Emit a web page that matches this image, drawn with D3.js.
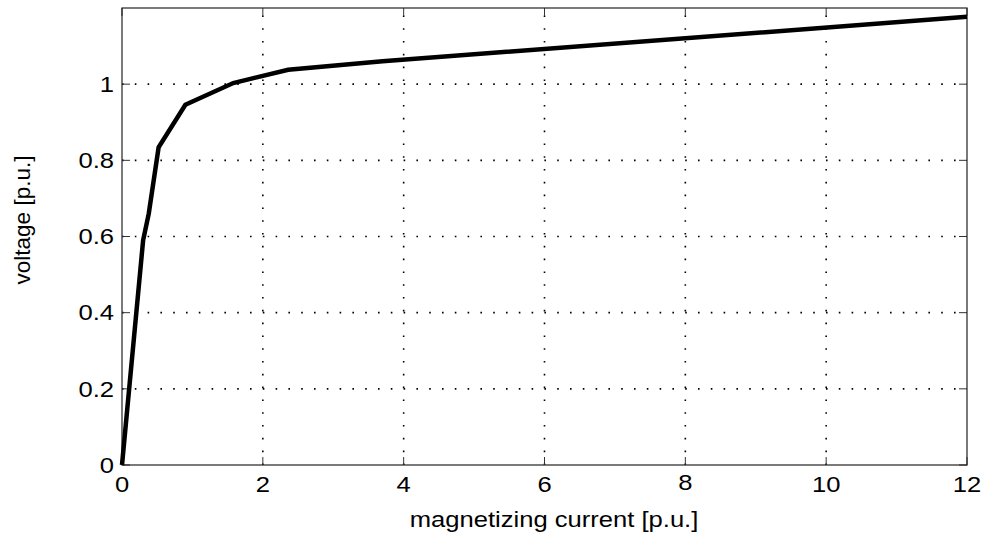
<!DOCTYPE html>
<html>
<head>
<meta charset="utf-8">
<script src="https://cdn.jsdelivr.net/npm/d3@7"></script>
<style>
html,body{margin:0;padding:0;background:#fff;}
svg{display:block;font-family:"Liberation Sans",Arial,Helvetica,sans-serif;}
</style>
</head>
<body>
<svg id="chart" width="989" height="538"></svg>
<script>
const current = [0, 0.3, 0.38, 0.52, 0.9, 1.58, 2.36, 3.7, 12];
const voltage = [0, 0.59, 0.66, 0.834, 0.946, 1.003, 1.038, 1.06, 1.177];
const xTicks = [0, 2, 4, 6, 8, 10, 12];
const yTicks = [0, 0.2, 0.4, 0.6, 0.8, 1];
const xTitle = "magnetizing current [p.u.]";
const yTitle = "voltage [p.u.]";

const svg = d3.select("#chart");
const L = 122, R = 967, T = 8, B = 465;
const x = d3.scaleLinear().domain([0, 12]).range([L, R]);
const y = d3.scaleLinear().domain([0, 1.2]).range([B, T]);
const SX = 1.19, FS = 21.5;

// grid
const g = svg.append("g");
g.selectAll(".gx").data(xTicks.filter(d => d > 0 && d < 12)).enter().append("line")
  .attr("x1", d => x(d)).attr("x2", d => x(d)).attr("y1", B).attr("y2", T)
  .attr("stroke", "#000").attr("stroke-width", 1.6).attr("stroke-dasharray", "1.6,11.2");
g.selectAll(".gy").data(yTicks.filter(d => d > 0)).enter().append("line")
  .attr("x1", L).attr("x2", R).attr("y1", d => y(d)).attr("y2", d => y(d))
  .attr("stroke", "#000").attr("stroke-width", 1.6).attr("stroke-dasharray", "1.6,11.2");

// ticks (inside, on all sides)
const tl = 8;
const tk = svg.append("g").attr("stroke", "#333").attr("stroke-width", 1);
xTicks.forEach(d => {
  tk.append("line").attr("x1", x(d)).attr("x2", x(d)).attr("y1", B).attr("y2", B - tl);
  tk.append("line").attr("x1", x(d)).attr("x2", x(d)).attr("y1", T).attr("y2", T + tl);
});
yTicks.forEach(d => {
  tk.append("line").attr("x1", L).attr("x2", L + tl).attr("y1", y(d)).attr("y2", y(d));
  tk.append("line").attr("x1", R).attr("x2", R - tl).attr("y1", y(d)).attr("y2", y(d));
});

// frame
svg.append("rect").attr("x", L).attr("y", T).attr("width", R - L).attr("height", B - T)
  .attr("fill", "none").attr("stroke", "#222").attr("stroke-width", 1.2);

// tick labels
svg.append("g").selectAll("text").data(xTicks).enter().append("text")
  .attr("transform", d => `translate(${x(d)},${d === 8 ? 490 : 492}) scale(${SX},1)`)
  .attr("text-anchor", "middle")
  .attr("font-size", FS).attr("fill", "#000").text(d => d);
svg.append("g").selectAll("text").data(yTicks).enter().append("text")
  .attr("transform", d => `translate(114,${y(d)}) scale(${SX},1)`)
  .attr("dy", "0.36em").attr("text-anchor", "end")
  .attr("font-size", FS).attr("fill", "#000").text(d => d);

// axis titles
svg.append("text").attr("transform", `translate(554,527) scale(${SX},1)`).attr("text-anchor", "middle")
  .attr("font-size", FS).attr("fill", "#000").text(xTitle);
svg.append("text").attr("transform", "translate(30,220) rotate(-90)").attr("text-anchor", "middle")
  .attr("font-size", 22.5).attr("fill", "#000").text(yTitle);

// curve
const pts = current.map((c, i) => [c, voltage[i]]);
svg.append("path").datum(pts)
  .attr("d", d3.line().x(d => x(d[0])).y(d => y(d[1])))
  .attr("fill", "none").attr("stroke", "#000").attr("stroke-width", 4.5)
  .attr("stroke-linejoin", "miter");
</script>
</body>
</html>
